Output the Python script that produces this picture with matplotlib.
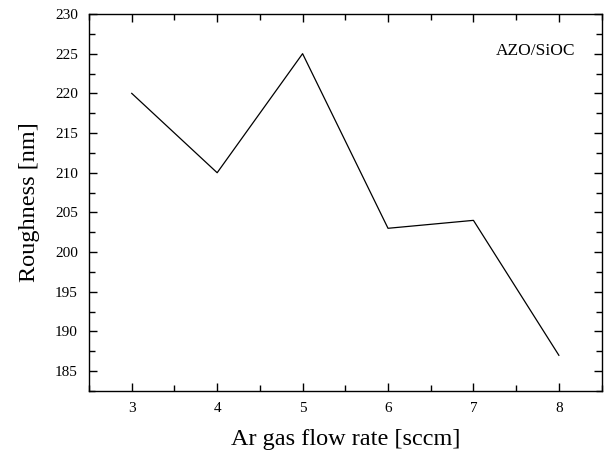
import numpy as np
import matplotlib.pyplot as plt
from matplotlib.ticker import MultipleLocator

# data
flow_rate = [3, 4, 5, 6, 7, 8]
roughness = [220, 210, 225, 203, 204, 187]

plt.rcParams['font.family'] = ['Liberation Serif', 'DejaVu Serif']

fig = plt.figure(figsize=(6.06, 4.57), dpi=100)
ax = fig.add_axes([0.1469, 0.1444, 0.9927 - 0.1469, 0.9694 - 0.1444])

ax.plot(flow_rate, roughness, color='black', linewidth=0.9)

ax.set_xlim(2.5, 8.5)
ax.set_ylim(182.5, 230)
ax.xaxis.set_major_locator(MultipleLocator(1))
ax.xaxis.set_minor_locator(MultipleLocator(0.5))
ax.yaxis.set_major_locator(MultipleLocator(5))
ax.yaxis.set_minor_locator(MultipleLocator(2.5))

ax.tick_params(which='both', direction='in', top=True, right=True,
               labelsize=11, width=1.0, pad=8)
ax.tick_params(which='major', length=6)
ax.tick_params(which='minor', length=4)
for s in ax.spines.values():
    s.set_linewidth(1.0)

ax.set_xlabel("Ar gas flow rate [sccm]", fontsize=17.5, labelpad=10)
ax.set_ylabel("Roughness [nm]", fontsize=17.5, labelpad=11)

ax.text(0.948, 0.902, "AZO/SiOC", transform=ax.transAxes, fontsize=12.5,
        ha='right', va='center')

plt.savefig("out.png")
